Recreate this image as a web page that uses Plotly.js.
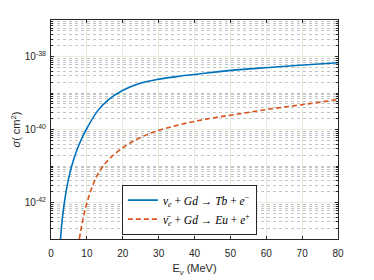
<!DOCTYPE html>
<html><head><meta charset="utf-8">
<script src="https://cdn.plot.ly/plotly-3.0.1.min.js"></script>
<style>html,body{margin:0;padding:0;background:#fff}#plot{width:374px;height:280px}</style>
</head><body><div id="plot"></div>
<script>
// Neutrino energy (MeV) and cross section (cm^2)
const energyCC = [2.65, 3.15, 3.99, 5.12, 6.51, 8.18, 10.22, 13.0, 15.8, 19.9, 24.65, 30.2, 35.8, 42.8, 52.6, 60.9, 69.3, 80.0];
const sigmaCC  = [1.0e-43, 3.55e-43, 1.48e-42, 5.62e-42, 1.74e-41, 4.68e-41, 1.17e-40, 3.24e-40, 6.31e-40, 1.17e-39, 1.82e-39, 2.40e-39, 2.88e-39, 3.47e-39, 4.37e-39, 5.01e-39, 5.75e-39, 6.76e-39];

const energyAnti = [7.9, 8.74, 9.85, 11.25, 12.92, 14.88, 16.83, 20.0, 22.78, 25.57, 28.83, 35.8, 44.2, 52.6, 60.9, 69.3, 80.0];
const sigmaAnti  = [1.0e-43, 2.88e-43, 8.51e-43, 2.34e-42, 5.62e-42, 1.10e-41, 1.78e-41, 3.16e-41, 4.68e-41, 6.46e-41, 8.71e-41, 1.35e-40, 2.0e-40, 2.69e-40, 3.63e-40, 4.68e-40, 6.61e-40];

const labelCC   = "<i>ν</i><sub><i>e</i></sub> + <i>Gd</i> → <i>Tb</i> + <i>e</i><sup>−</sup>";
const labelAnti = "<i>ν̄</i><sub><i>e</i></sub> + <i>Gd</i> → <i>Eu</i> + <i>e</i><sup>+</sup>";

const xTicks = [0, 10, 20, 30, 40, 50, 60, 70, 80];
const yTicks = [1e-42, 1e-40, 1e-38];
const yTickText = ["10<sup>-42</sup>", "10<sup>-40</sup>", "10<sup>-38</sup>"];
const yMinor = [];
for (let d = -43; d < -37; d++) for (let k = 1; k <= 9; k++) yMinor.push(k * Math.pow(10, d));

const traces = [
  {x: energyCC, y: sigmaCC, name: labelCC, type: 'scatter', mode: 'lines',
   line: {color: '#0072BD', width: 1.6, shape: 'spline', smoothing: 1}},
  {x: energyAnti, y: sigmaAnti, name: labelAnti, type: 'scatter', mode: 'lines',
   line: {color: '#D95319', width: 1.6, dash: '5px,3px', shape: 'spline', smoothing: 1}}
];

const axFont = {family: 'Liberation Sans, Arial, sans-serif', size: 10, color: '#262626'};

const layout = {
  width: 374, height: 280,
  margin: {l: 51, r: 36, t: 20, b: 41},
  paper_bgcolor: '#fff', plot_bgcolor: '#fff',
  showlegend: true,
  legend: {x: 0.247, y: 0.02, xanchor: 'left', yanchor: 'bottom',
    bgcolor: '#fff', bordercolor: '#262626', borderwidth: 1,
    font: {family: 'Liberation Serif, Times New Roman, serif', size: 11.5, color: '#000'},
    tracegroupgap: 0, itemwidth: 30},
  xaxis: {range: [0, 80], tickvals: xTicks, ticktext: xTicks.map(String),
    showline: true, linecolor: '#262626', linewidth: 1, mirror: 'ticks',
    ticks: 'inside', ticklen: 3, tickcolor: '#262626',
    showgrid: true, gridcolor: '#e6eedb', gridwidth: 1, zeroline: false,
    tickfont: axFont, ticklabelstandoff: 5,
    title: {text: 'E<sub><i>ν</i></sub> (MeV)', font: {family: 'Liberation Sans, Arial, sans-serif', size: 11, color: '#262626'}, standoff: 6}},
  yaxis: {type: 'log', range: [-43, -37], tickvals: yTicks, ticktext: yTickText,
    showline: true, linecolor: '#262626', linewidth: 1, mirror: 'ticks',
    ticks: 'inside', ticklen: 3, tickcolor: '#262626',
    showgrid: true, gridcolor: '#e6eedb', gridwidth: 1, zeroline: false,
    tickfont: axFont, ticklabelstandoff: 2,
    minor: {tickmode: 'array', tickvals: yMinor, ticks: 'inside', ticklen: 2, tickcolor: '#262626',
      showgrid: true, gridcolor: '#c4c4c4', gridwidth: 1, griddash: 'dot'},
    title: {text: '<i>σ</i>( cm<sup>2</sup>)', font: {family: 'Liberation Sans, Arial, sans-serif', size: 11, color: '#262626'}, standoff: 1}}
};

Plotly.newPlot('plot', traces, layout, {displayModeBar: false, staticPlot: true});
</script>
</body></html>
